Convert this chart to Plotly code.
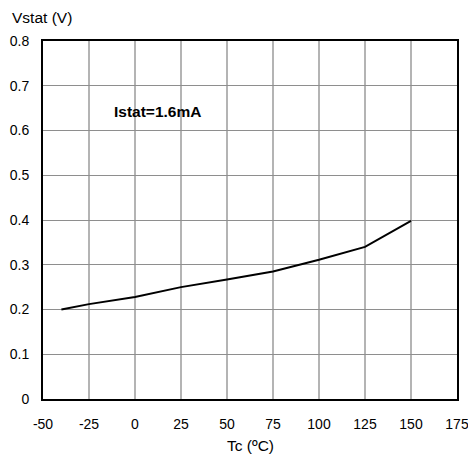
import plotly.graph_objects as go

temps = [-40, -25, 0, 25, 50, 75, 100, 125, 150]
vstat = [0.200, 0.212, 0.228, 0.250, 0.267, 0.285, 0.311, 0.340, 0.398]
x_ticks = [-50, -25, 0, 25, 50, 75, 100, 125, 150, 175]
y_ticks = [0, 0.1, 0.2, 0.3, 0.4, 0.5, 0.6, 0.7, 0.8]
y_labels = ["0", "0.1", "0.2", "0.3", "0.4", "0.5", "0.6", "0.7", "0.8"]

font = "Liberation Sans, Arial, sans-serif"

fig = go.Figure()
fig.add_trace(go.Scatter(x=temps, y=vstat, mode="lines",
                         line=dict(color="black", width=2), showlegend=False))

# page body has an 8px margin: figure sized to fit the 476x464 window
fig.update_layout(
    width=468, height=456,
    margin=dict(l=35, r=19, t=33, b=65),
    paper_bgcolor="white", plot_bgcolor="white",
    font=dict(family=font, size=14, color="black"),
)
fig.update_xaxes(range=[-50, 175], tickvals=x_ticks, ticktext=[str(v) for v in x_ticks],
                 showgrid=True, gridcolor="#b4b4b4", gridwidth=1.5,
                 showline=True, linecolor="black", linewidth=2, mirror=True,
                 ticks="", ticklabelstandoff=11, zeroline=False, automargin=False)
fig.update_yaxes(range=[0, 0.8], tickvals=y_ticks, ticktext=y_labels,
                 showgrid=True, gridcolor="#8e8e8e", gridwidth=1,
                 showline=True, linecolor="black", linewidth=2, mirror=True,
                 ticks="", ticklabelstandoff=9, zeroline=False, automargin=False)

fig.add_annotation(text="Vstat (V)", xref="paper", yref="paper",
                   x=-0.0797, y=1.067, xanchor="left", yanchor="middle",
                   showarrow=False, font=dict(size=15.5))
fig.add_annotation(text="Tc (ºC)", xref="paper", yref="paper",
                   x=0.5, y=-0.1285, xanchor="center", yanchor="middle",
                   showarrow=False, font=dict(size=15.5))
fig.add_annotation(text="<b>Istat=1.6mA</b>", xref="x", yref="y",
                   x=12, y=0.642, xanchor="center", yanchor="middle",
                   showarrow=False, font=dict(size=15.5))

fig.write_html("out.html")
